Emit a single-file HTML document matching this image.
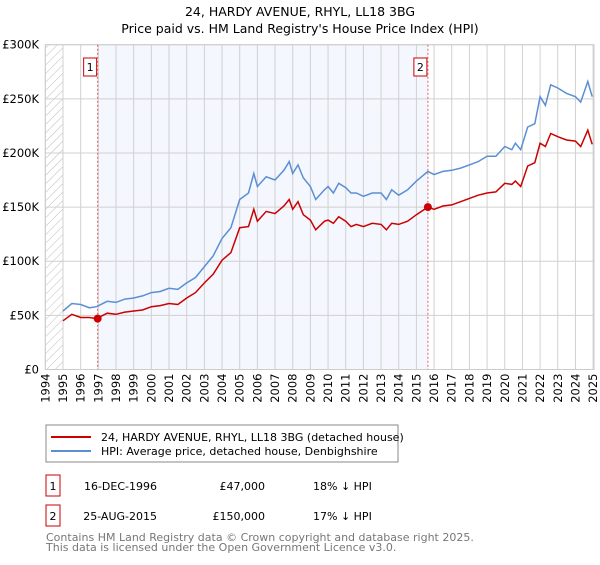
<!DOCTYPE html>
<html><head><meta charset="utf-8"><style>
body{margin:0;background:#fff;font-family:"Liberation Sans","DejaVu Sans",sans-serif;}
svg text{font-family:"DejaVu Sans","Liberation Sans",sans-serif;}
</style></head><body>
<svg id="chart" width="600" height="560" viewBox="0 0 600 560" xmlns="http://www.w3.org/2000/svg">
<defs><pattern id="hatch" width="6" height="6" patternUnits="userSpaceOnUse" patternTransform="rotate(45)"><line x1="0" y1="0" x2="0" y2="6" stroke="#bbb" stroke-width="1"/></pattern></defs>
<text x="300" y="16" text-anchor="middle" font-size="12.5">24, HARDY AVENUE, RHYL, LL18 3BG</text>
<text x="300" y="33" text-anchor="middle" font-size="12.5">Price paid vs. HM Land Registry's House Price Index (HPI)</text>
<g id="plot"></g>
<g>
<rect x="46" y="425" width="352" height="37" fill="#fff" stroke="#888"/>
<line x1="51" y1="437" x2="91" y2="437" stroke="#cc0000" stroke-width="2"/>
<text x="101" y="441" font-size="11">24, HARDY AVENUE, RHYL, LL18 3BG (detached house)</text>
<line x1="51" y1="451" x2="91" y2="451" stroke="#5b8fd4" stroke-width="2"/>
<text x="101" y="455" font-size="11">HPI: Average price, detached house, Denbighshire</text>
</g>
<g>
<rect x="46" y="475" width="14" height="21" fill="#fff" stroke="#cc0000"/>
<text x="53" y="490" font-size="11" text-anchor="middle">1</text>
<text x="157" y="490" font-size="11" text-anchor="end">16-DEC-1996</text>
<text x="265" y="490" font-size="11" text-anchor="end">£47,000</text>
<text x="313" y="490" font-size="11">18% ↓ HPI</text>
<rect x="46" y="505" width="14" height="21" fill="#fff" stroke="#cc0000"/>
<text x="53" y="520" font-size="11" text-anchor="middle">2</text>
<text x="157" y="520" font-size="11" text-anchor="end">25-AUG-2015</text>
<text x="265" y="520" font-size="11" text-anchor="end">£150,000</text>
<text x="313" y="520" font-size="11">17% ↓ HPI</text>
</g>
<text x="46" y="541" font-size="11" fill="#777">Contains HM Land Registry data © Crown copyright and database right 2025.</text>
<text x="46" y="551" font-size="11" fill="#777">This data is licensed under the Open Government Licence v3.0.</text>
</svg>
<script>
const hpiYears=[1995.0,1995.5,1996.0,1996.5,1996.9,1997.5,1998.0,1998.5,1999.0,1999.5,2000.0,2000.5,2001.0,2001.5,2002.0,2002.5,2003.0,2003.5,2004.0,2004.5,2005.0,2005.5,2005.8,2006.0,2006.5,2007.0,2007.5,2007.8,2008.0,2008.3,2008.6,2009.0,2009.3,2009.8,2010.0,2010.3,2010.6,2011.0,2011.3,2011.6,2012.0,2012.5,2013.0,2013.3,2013.6,2014.0,2014.5,2015.0,2015.65,2016.0,2016.5,2017.0,2017.5,2018.0,2018.5,2019.0,2019.5,2020.0,2020.4,2020.6,2020.9,2021.3,2021.7,2022.0,2022.3,2022.6,2023.0,2023.5,2024.0,2024.3,2024.7,2024.95];
const hpiValues=[54,61,60,57,58,63,62,65,66,68,71,72,75,74,80,85,95,105,121,131,157,163,181,169,178,175,184,192,181,189,177,169,157,166,169,163,172,168,163,163,160,163,163,157,166,161,166,174,183,180,183,184,186,189,192,197,197,206,203,209,203,224,227,252,244,263,260,255,252,247,266,252];
const priceValues=[45,51,48,48,47,52,51,53,54,55,58,59,61,60,66,71,80,88,101,108,131,132,148,137,146,144,151,157,148,155,143,138,129,137,138,135,141,137,132,134,132,135,134,129,135,134,137,143,150,148,151,152,155,158,161,163,164,172,171,174,169,188,191,209,206,218,215,212,211,206,221,208];
const saleYears=[1996.96,2015.65];
const saleValues=[47,150];
const saleLabels=["1","2"];
const yTicks=[0,50,100,150,200,250,300];
const yTickLabels=["£0","£50K","£100K","£150K","£200K","£250K","£300K"];
const xTicks=[1994,1995,1996,1997,1998,1999,2000,2001,2002,2003,2004,2005,2006,2007,2008,2009,2010,2011,2012,2013,2014,2015,2016,2017,2018,2019,2020,2021,2022,2023,2024,2025];

const NS="http://www.w3.org/2000/svg";
const L=45.3,R=594,T=44.7,B=369.5;
const xS=y=>63+(y-1995)*17.67;
const yS=v=>B-(v/300)*(B-T);
const g=document.getElementById('plot');
function mk(tag,attrs,parent){const e=document.createElementNS(NS,tag);for(const k in attrs)e.setAttribute(k,attrs[k]);(parent||g).appendChild(e);return e;}

let bg=mk('rect',{x:L,y:T,width:R-L,height:B-T,fill:'#fff'});


let hatch=mk('rect',{x:L,y:T,width:xS(1995)-L,height:B-T,fill:'url(#hatch)'});


let shade=mk('rect',{x:xS(saleYears[0]),y:T,width:xS(saleYears[1])-xS(saleYears[0]),height:B-T,fill:'#f4f7fd'});



xTicks.forEach(yr=>{
  const x=xS(yr);
  let gl=mk('line',{x1:x,y1:T,x2:x,y2:B,stroke:'#d0d0d0','stroke-width':1});
  
  
  let t=mk('text',{x:0,y:0,'font-size':11.5,'text-anchor':'end',transform:`translate(${x+4},${B+4}) rotate(-90)`});
  t.textContent=yr;
  
  
});
yTicks.forEach((v,i)=>{
  const y=yS(v);
  let gl=mk('line',{x1:L,y1:y,x2:R,y2:y,stroke:'#d0d0d0','stroke-width':1});
  
  
  let t=mk('text',{x:39,y:y+4,'font-size':11.5,'text-anchor':'end'});
  t.textContent=yTickLabels[i];
  
  
});
let fr=mk('rect',{x:L,y:T,width:R-L,height:B-T,fill:'none',stroke:'#ccc'});



saleYears.forEach((yr,i)=>{
  const x=xS(yr);
  let vl=mk('line',{x1:x,y1:T,x2:x,y2:B,stroke:'#e06060','stroke-width':1,'stroke-dasharray':'2,2'});
  
  
  let bx=mk('rect',{x:x-14,y:58,width:13,height:18,fill:'#fff',stroke:'#cc0000'});
  
  
  let t=mk('text',{x:x-7.5,y:71,'font-size':11,'text-anchor':'middle'});
  t.textContent=saleLabels[i];
  
  
});

const ptsH=hpiYears.map((yr,i)=>xS(yr).toFixed(1)+','+yS(hpiValues[i]).toFixed(1)).join(' ');
let hl=mk('polyline',{points:ptsH,fill:'none',stroke:'#5b8fd4','stroke-width':1.5});


const ptsP=hpiYears.map((yr,i)=>xS(yr).toFixed(1)+','+yS(priceValues[i]).toFixed(1)).join(' ');
let pl=mk('polyline',{points:ptsP,fill:'none',stroke:'#cc0000','stroke-width':1.5});


saleYears.forEach((yr,i)=>{
  let c=mk('circle',{cx:xS(yr),cy:yS(saleValues[i]),r:4,fill:'#cc0000'});
  
  
});
</script>
</body></html>
